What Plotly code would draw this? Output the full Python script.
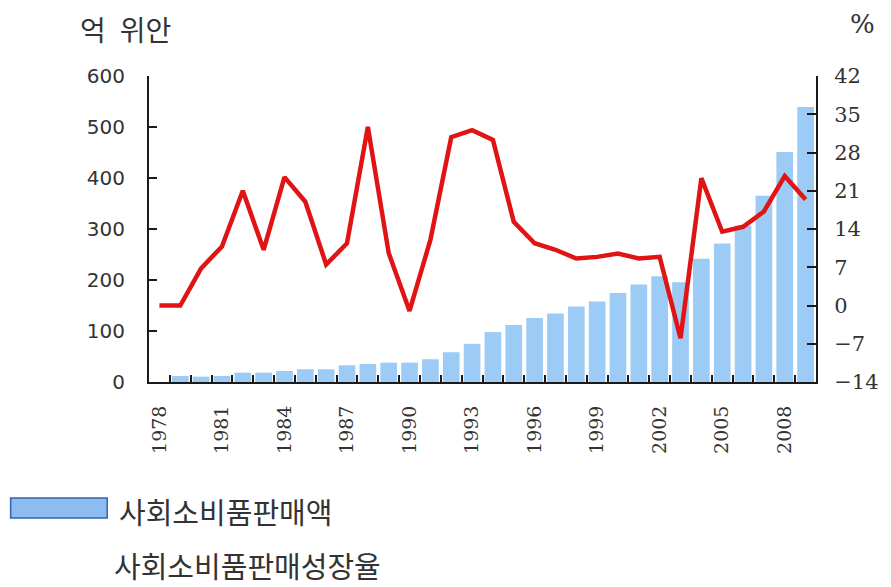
import plotly.graph_objects as go

years = list(range(1978, 2010))
sales = [None, 11.8, 10.5, 11.8, 18.4, 18.4, 21.7, 25, 25, 32.8, 35.4, 38, 38,
         44.6, 58.4, 74.8, 97.8, 111.6, 125.4, 134.5, 148, 158, 174.6, 191,
         207.3, 195.5, 241.5, 271.7, 307, 365, 451, 539]
growth = [0, 0, 6.8, 10.8, 21.0, 10.2, 23.5, 19.0, 7.5, 11.4, 32.7, 9.6, -1.0,
          12.0, 30.8, 32.1, 30.3, 15.3, 11.4, 10.2, 8.6, 8.9, 9.5, 8.6, 8.9,
          -6.0, 23.3, 13.5, 14.4, 17.2, 23.7, 19.4]
label_years = list(range(1978, 2010, 3))
left_ticks = [0, 100, 200, 300, 400, 500, 600]
right_ticks = [-14, -7, 0, 7, 14, 21, 28, 35, 42]
name_bar = "사회소비품판매액"
name_line = "사회소비품판매성장율"
unit_left = "억\u2002위안"
unit_right = "%"

# page body has an 8px margin; figure placed at (8, 8)
OFF = 8
W, H = 891 - OFF, 587 - OFF
l, t = 149 - OFF, 76 - OFF
r = W - (819 - OFF)
b = H - (382 - OFF)
pw, ph = W - l - r, H - t - b

def px(xs):
    return (xs - OFF - l) / pw

def py(ys):
    return (H - b - (ys - OFF)) / ph

fig = go.Figure()
fig.add_trace(go.Bar(x=years, y=sales, name=name_bar, marker=dict(color="#9ccbf5", line=dict(width=0)),
                     showlegend=False))
fig.add_trace(go.Scatter(x=years, y=growth, name=name_line, yaxis="y2", mode="lines",
                         line=dict(color="#e01414", width=4.5), showlegend=False))

axis_color = "#1a1a1a"
fig.update_layout(
    width=W, height=H,
    margin=dict(l=l, r=r, t=t, b=b, pad=0),
    paper_bgcolor="white", plot_bgcolor="white",
    bargap=0.2,
    xaxis=dict(range=[1977.5, 2009.5], tickvals=label_years, ticktext=[str(y) for y in label_years],
               tickangle=-90, ticks="", showgrid=False, zeroline=False,
               showline=True, linecolor=axis_color, linewidth=2,
               tickfont=dict(family="DejaVu Serif", size=19, color="#333"),
               ticklabelstandoff=14,
               minor=dict(tickvals=[y + 0.5 for y in years[:-1]], ticks="inside", ticklen=7,
                          tickwidth=1.5, tickcolor=axis_color, showgrid=False)),
    yaxis=dict(range=[0, 600], tickvals=left_ticks, ticks="inside", ticklen=8, tickwidth=1.5,
               tickcolor=axis_color, showgrid=False, zeroline=False,
               showline=True, linecolor=axis_color, linewidth=2,
               tickfont=dict(family="DejaVu Sans", size=20, color="#333"),
               ticklabelstandoff=18),
    yaxis2=dict(range=[-14, 42], tickvals=right_ticks, overlaying="y", side="right",
                ticks="inside", ticklen=9, tickwidth=1.5, tickcolor=axis_color,
                showgrid=False, zeroline=False, showline=True, linecolor=axis_color, linewidth=2,
                tickfont=dict(family="DejaVu Serif", size=21, color="#333"),
                ticklabelstandoff=12),
)

kfont_title = dict(family="Noto Sans CJK KR", size=28, color="#333")
kfont = dict(family="Noto Sans CJK KR", size=29, color="#333")
top_paper = (H - b) / ph  # paper y of the figure top edge
bottom_paper = -b / ph    # paper y of the figure bottom edge
fig.add_annotation(x=px(79), y=top_paper, xref="paper", yref="paper", text=unit_left, showarrow=False,
                   xanchor="left", yanchor="top", borderpad=0, font=kfont_title)
fig.add_annotation(x=px(866), y=top_paper, xref="paper", yref="paper", text=unit_right, showarrow=False,
                   xanchor="center", yanchor="top", borderpad=0,
                   font=dict(family="DejaVu Serif", size=26, color="#333"))
fig.add_annotation(x=px(117), y=py(511), xref="paper", yref="paper", text=name_bar, showarrow=False,
                   xanchor="left", yanchor="middle", font=kfont)
fig.add_annotation(x=px(113), y=bottom_paper, xref="paper", yref="paper", text=name_line, showarrow=False,
                   xanchor="left", yanchor="bottom", borderpad=0, font=kfont)

fig.add_shape(type="rect", xref="paper", yref="paper", x0=px(10), x1=px(107), y0=py(518), y1=py(498),
              fillcolor="#8dbdf0", line=dict(color="#2f64a8", width=1.5))

fig.write_html("out.html")
